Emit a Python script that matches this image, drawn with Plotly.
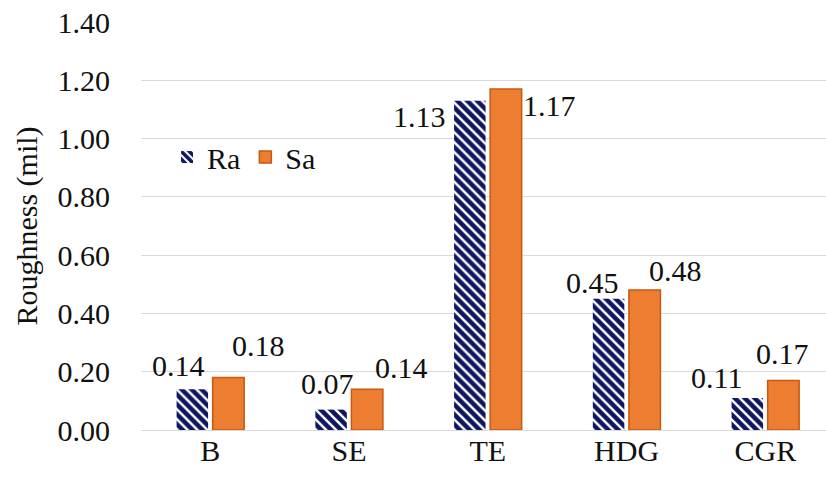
import plotly.graph_objects as go

categories = ["B", "SE", "TE", "HDG", "CGR"]
ra_values = [0.14, 0.07, 1.13, 0.45, 0.11]
sa_values = [0.18, 0.14, 1.17, 0.48, 0.17]
tick_vals = [0.0, 0.2, 0.4, 0.6, 0.8, 1.0, 1.2, 1.4]
tick_text = ["0.00", "0.20", "0.40", "0.60", "0.80", "1.00", "1.20", "1.40"]

# label placement (pixels) relative to category centre / bar top
ra_xshift = [-32, -22, -68, -34, -49]
ra_yshift = [24, 26, -16, 16, 20]
sa_xshift = [48, 52, 62, 49, 17]
sa_yshift = [32, 22, -16, 20, 27]

FONT = "Liberation Serif, DejaVu Serif, serif"
FS = 30
TXT = "#111111"

fig = go.Figure()
fig.add_trace(go.Bar(
    name="Ra", x=categories, y=ra_values,
    marker=dict(color="white",
                line=dict(width=0),
                pattern=dict(shape="\\", fgcolor="#0E1660", bgcolor="white",
                             fgopacity=1, size=7, solidity=0.65)),
))
fig.add_trace(go.Bar(
    name="Sa", x=categories, y=sa_values,
    marker=dict(color="#ED7D31", line=dict(color="#C55A11", width=1.5)),
))

ann = []
for i, c in enumerate(categories):
    ann.append(dict(x=i, y=ra_values[i], xref="x", yref="y", text=f"{ra_values[i]:.2f}",
                    showarrow=False, xshift=ra_xshift[i], yshift=ra_yshift[i],
                    font=dict(family=FONT, size=FS, color=TXT)))
    ann.append(dict(x=i, y=sa_values[i], xref="x", yref="y", text=f"{sa_values[i]:.2f}",
                    showarrow=False, xshift=sa_xshift[i], yshift=sa_yshift[i],
                    font=dict(family=FONT, size=FS, color=TXT)))

fig.update_layout(
    width=826, height=481,
    margin=dict(l=141, r=0, t=22, b=51, autoexpand=False),
    paper_bgcolor="white", plot_bgcolor="white",
    barmode="group", bargap=0.48, bargroupgap=0.127,
    font=dict(family=FONT, size=FS, color=TXT),
    showlegend=True,
    legend=dict(orientation="h", x=0.038, y=0.669, xanchor="left", yanchor="middle",
                bgcolor="rgba(0,0,0,0)", font=dict(family=FONT, size=FS, color=TXT),
                itemwidth=30, tracegroupgap=0),
    annotations=ann,
    xaxis=dict(type="category", range=[-0.5, 4.437], showgrid=False, showline=False,
               ticks="", automargin=False, tickfont=dict(family=FONT, size=FS, color=TXT)),
    yaxis=dict(range=[0, 1.4], tickvals=tick_vals, ticktext=tick_text, automargin=False,
               showgrid=True, gridcolor="#D9D9D9", gridwidth=1,
               zeroline=True, zerolinecolor="#D9D9D9", zerolinewidth=1,
               showline=False, ticks="", ticklabelstandoff=30,
               tickfont=dict(family=FONT, size=FS, color=TXT),
               title=dict(text="Roughness (mil)", font=dict(family=FONT, size=FS, color=TXT),
                          standoff=11)),
)

fig.write_html("out.html", config={"displayModeBar": False},
               post_script="document.body.style.margin='0';")
